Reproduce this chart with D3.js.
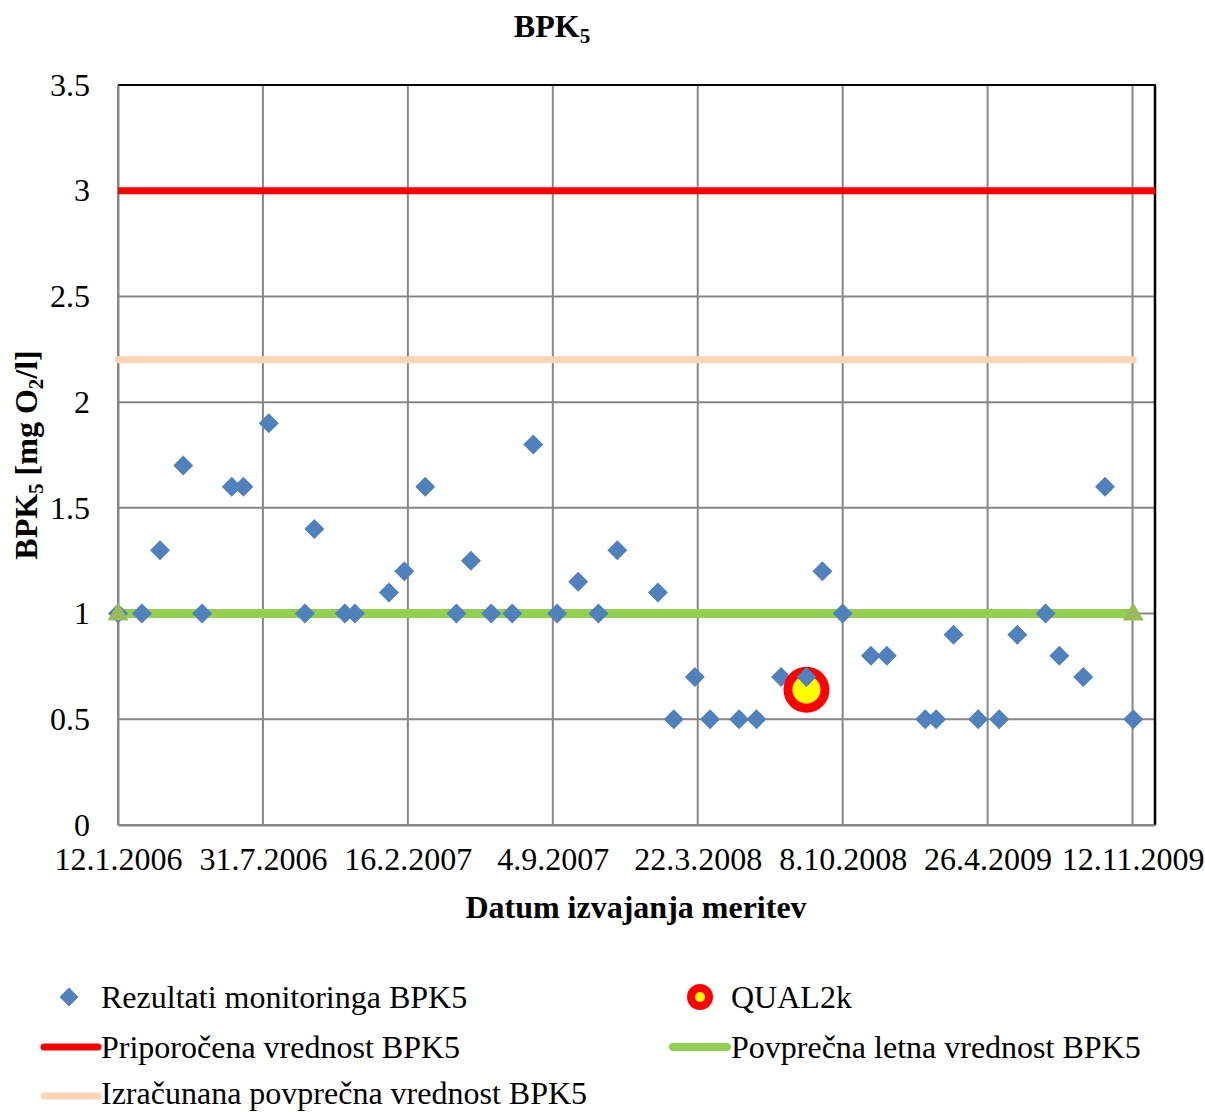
<!DOCTYPE html>
<html>
<head>
<meta charset="utf-8">
<script src="https://cdn.jsdelivr.net/npm/d3@7"></script>
<style>
  html, body { margin: 0; padding: 0; background: #fff; }
  svg { display: block; font-family: "Liberation Serif", "Times New Roman", serif; }
</style>
</head>
<body>
<svg id="chart" width="1205" height="1112"></svg>
<script>
// ---------- DATA ----------
const measureDates = [
  "12.1.2006","14.2.2006","11.3.2006","12.4.2006","8.5.2006","18.6.2006","4.7.2006","8.8.2006",
  "27.9.2006","10.10.2006","21.11.2006","5.12.2006","21.1.2007","11.2.2007","12.3.2007","24.4.2007",
  "14.5.2007","11.6.2007","10.7.2007","8.8.2007","10.9.2007","9.10.2007","6.11.2007","2.12.2007",
  "27.1.2008","18.2.2008","18.3.2008","8.4.2008","18.5.2008","11.6.2008","15.7.2008","19.8.2008",
  "10.9.2008","8.10.2008","16.11.2008","8.12.2008","30.1.2009","14.2.2009","10.3.2009","13.4.2009",
  "12.5.2009","6.6.2009","15.7.2009","3.8.2009","5.9.2009","5.10.2009","13.11.2009"
];
const measureValues = [
  1.0,1.0,1.3,1.7,1.0,1.6,1.6,1.9,
  1.0,1.4,1.0,1.0,1.1,1.2,1.6,1.0,
  1.25,1.0,1.0,1.8,1.0,1.15,1.0,1.3,
  1.1,0.5,0.7,0.5,0.5,0.5,0.7,0.7,
  1.2,1.0,0.8,0.8,0.5,0.5,0.9,0.5,
  0.5,0.9,1.0,0.8,0.7,1.6,0.5
];
const qualDates = ["19.8.2008"];
const qualValues = [0.64];

const recommendedDates = ["12.1.2006","13.12.2009"];
const recommendedValues = [3.0, 3.0];
const computedDates = ["12.1.2006","13.11.2009"];
const computedValues = [2.2, 2.2];
const annualDates = ["12.1.2006","13.11.2009"];
const annualValues = [1.0, 1.0];

const xDomainLabels = ["12.1.2006","13.12.2009"];
const xTickLabels = ["12.1.2006","31.7.2006","16.2.2007","4.9.2007","22.3.2008","8.10.2008","26.4.2009","12.11.2009"];
const yTickValues = [0, 0.5, 1, 1.5, 2, 2.5, 3, 3.5];
const yTickLabels = ["0","0.5","1","1.5","2","2.5","3","3.5"];

const legendLabels = [
  "Rezultati monitoringa BPK5",
  "QUAL2k",
  "Priporočena vrednost BPK5",
  "Povprečna letna vrednost BPK5",
  "Izračunana povprečna vrednost BPK5"
];

// ---------- CHART ----------
(function () {
const parse = d3.utcParse("%d.%m.%Y");
const svg = d3.select("#chart");
const FS = 32, SUB = 21;

const pL = 118, pR = 1155, pT = 85, pB = 825;
const x = d3.scaleUtc().domain(xDomainLabels.map(parse)).range([pL, pR]);
const y = d3.scaleLinear().domain([0, 3.5]).range([pB, pT]);

const gridColor = "#878787";

// gridlines
const gGrid = svg.append("g");
gGrid.selectAll("line.h").data(yTickValues).join("line").attr("class", "h")
  .attr("x1", pL).attr("x2", pR)
  .attr("y1", d => y(d)).attr("y2", d => y(d))
  .attr("stroke", gridColor).attr("stroke-width", 2);
gGrid.selectAll("line.v").data(xTickLabels.map(parse)).join("line").attr("class", "v")
  .attr("x1", d => x(d)).attr("x2", d => x(d))
  .attr("y1", pT).attr("y2", pB)
  .attr("stroke", gridColor).attr("stroke-width", 2);

// plot border (top/right black)
svg.append("line").attr("x1", pL).attr("x2", pR + 1).attr("y1", pT).attr("y2", pT)
  .attr("stroke", "#000").attr("stroke-width", 2);
svg.append("line").attr("x1", pR).attr("x2", pR).attr("y1", pT).attr("y2", pB)
  .attr("stroke", "#000").attr("stroke-width", 2.5);

// axes
const yAxis = d3.axisLeft(y).tickValues(yTickValues).tickFormat((d, i) => yTickLabels[i]).tickSize(0).tickPadding(28);
const gy = svg.append("g").attr("transform", `translate(${pL},0)`).call(yAxis);
gy.select(".domain").attr("stroke", gridColor).attr("stroke-width", 2);
gy.selectAll("text").attr("font-size", FS).attr("fill", "#000")
  .attr("font-family", "Liberation Serif, Times New Roman, serif");

const xAxis = d3.axisBottom(x).tickValues(xTickLabels.map(parse)).tickFormat((d, i) => xTickLabels[i]).tickSize(0).tickPadding(22);
const gx = svg.append("g").attr("transform", `translate(0,${pB})`).call(xAxis);
gx.select(".domain").attr("stroke", gridColor).attr("stroke-width", 2);
gx.selectAll("text").attr("font-size", FS).attr("fill", "#000")
  .attr("font-family", "Liberation Serif, Times New Roman, serif");

// reference lines
const line = d3.line().x(d => x(d[0])).y(d => y(d[1]));
const zipSeries = (dates, vals) => dates.map((d, i) => [parse(d), vals[i]]);

svg.append("path").datum(zipSeries(recommendedDates, recommendedValues))
  .attr("d", line).attr("fill", "none").attr("stroke", "#FF0000").attr("stroke-width", 7);
svg.append("path").datum(zipSeries(computedDates, computedValues))
  .attr("d", line).attr("fill", "none").attr("stroke", "#FCD5B5").attr("stroke-width", 7)
  .attr("stroke-linecap", "round");
const annual = zipSeries(annualDates, annualValues);
svg.append("path").datum(annual)
  .attr("d", line).attr("fill", "none").attr("stroke", "#92D050").attr("stroke-width", 9);

// monitoring diamonds
const diamond = d3.symbol().type(d3.symbolSquare).size(200);
const meas = zipSeries(measureDates, measureValues);
svg.append("g").selectAll("path").data(meas).join("path")
  .attr("d", diamond)
  .attr("transform", d => `translate(${x(d[0])},${y(d[1])}) rotate(45)`)
  .attr("fill", "#4F81BD");

// annual triangles at ends
const tri = d3.symbol().type(d3.symbolTriangle).size(190);
svg.append("g").selectAll("path").data(annual).join("path")
  .attr("d", tri)
  .attr("transform", d => `translate(${x(d[0])},${y(d[1]) + 1})`)
  .attr("fill", "#9BBB59");

// QUAL2k
const q = zipSeries(qualDates, qualValues);
const gq = svg.append("g").selectAll("g").data(q).join("g")
  .attr("transform", d => `translate(${x(d[0])},${y(d[1])})`);
gq.append("circle").attr("r", 23).attr("fill", "#FF0000");
gq.append("circle").attr("r", 14).attr("fill", "#FFFF00");
// the diamond drawn over the QUAL2k marker
svg.append("g").selectAll("path").data(meas.filter(d => +d[0] === +parse(qualDates[0]))).join("path")
  .attr("d", diamond)
  .attr("transform", d => `translate(${x(d[0])},${y(d[1])}) rotate(45)`)
  .attr("fill", "#4F81BD");

// title
const title = svg.append("text").attr("x", 552).attr("y", 37).attr("text-anchor", "middle")
  .attr("font-size", FS).attr("font-weight", "bold");
title.append("tspan").text("BPK");
title.append("tspan").attr("font-size", SUB).attr("dy", 6).text("5");

// x axis title
svg.append("text").attr("x", 636).attr("y", 918).attr("text-anchor", "middle")
  .attr("font-size", FS).attr("font-weight", "bold").text("Datum izvajanja meritev");

// y axis title
const yt = svg.append("text").attr("transform", "translate(37,455) rotate(-90)")
  .attr("text-anchor", "middle").attr("font-size", FS).attr("font-weight", "bold");
yt.append("tspan").text("BPK");
yt.append("tspan").attr("font-size", SUB).attr("dy", 6).text("5");
yt.append("tspan").attr("dy", -6).text(" [mg O");
yt.append("tspan").attr("font-size", SUB).attr("dy", 6).text("2");
yt.append("tspan").attr("dy", -6).text("/l]");

// legend
const lg = svg.append("g").attr("font-size", FS);
const rowY = [997, 1047, 1094];
lg.append("path").attr("d", d3.symbol().type(d3.symbolSquare).size(180))
  .attr("transform", `translate(69,${rowY[0]}) rotate(45)`).attr("fill", "#4F81BD");
lg.append("text").attr("x", 101).attr("y", rowY[0] + 11).text(legendLabels[0]);
lg.append("circle").attr("cx", 700).attr("cy", rowY[0]).attr("r", 13).attr("fill", "#FF0000");
lg.append("circle").attr("cx", 700).attr("cy", rowY[0]).attr("r", 5).attr("fill", "#FFFF00");
lg.append("text").attr("x", 731).attr("y", rowY[0] + 11).text(legendLabels[1]);
lg.append("line").attr("x1", 44).attr("x2", 98).attr("y1", rowY[1]).attr("y2", rowY[1])
  .attr("stroke", "#FF0000").attr("stroke-width", 7).attr("stroke-linecap", "round");
lg.append("text").attr("x", 101).attr("y", rowY[1] + 11).text(legendLabels[2]);
lg.append("line").attr("x1", 673).attr("x2", 727).attr("y1", rowY[1]).attr("y2", rowY[1])
  .attr("stroke", "#92D050").attr("stroke-width", 8).attr("stroke-linecap", "round");
lg.append("text").attr("x", 731).attr("y", rowY[1] + 11).text(legendLabels[3]);
lg.append("line").attr("x1", 44).attr("x2", 98).attr("y1", rowY[2] + 2).attr("y2", rowY[2] + 2)
  .attr("stroke", "#FCD5B5").attr("stroke-width", 7).attr("stroke-linecap", "round");
lg.append("text").attr("x", 101).attr("y", rowY[2] + 10).text(legendLabels[4]);
})();
</script>
</body>
</html>
